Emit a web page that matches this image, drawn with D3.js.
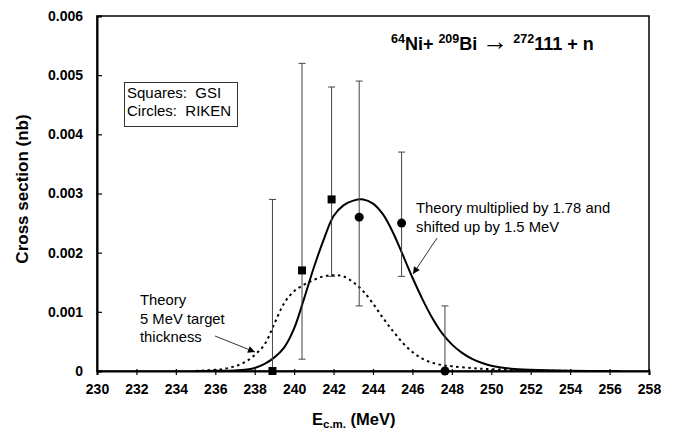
<!DOCTYPE html>
<html>
<head>
<meta charset="utf-8">
<script src="https://cdn.jsdelivr.net/npm/d3@7"></script>
<style>
  html, body { margin: 0; padding: 0; background: #fff; }
  svg { display: block; font-family: "Liberation Sans", Arial, sans-serif; }
</style>
</head>
<body>
<svg id="chart" width="679" height="430"></svg>
<script>
// Axis ticks
const xTicks = [230, 232, 234, 236, 238, 240, 242, 244, 246, 248, 250, 252, 254, 256, 258];
const yTicks = [0, 0.001, 0.002, 0.003, 0.004, 0.005, 0.006];

// GSI measurements (squares): energy, cross section, error bar low / high
const gsiE    = [238.9, 240.4, 241.9];
const gsiY    = [0.0, 0.0017, 0.0029];
const gsiLow  = [0.0, 0.0002, 0.0016];
const gsiHigh = [0.0029, 0.0052, 0.0048];

// RIKEN measurements (circles)
const rikenE    = [243.3, 245.45, 247.65];
const rikenY    = [0.0026, 0.0025, 0.0];
const rikenLow  = [0.0011, 0.0016, 0.0];
const rikenHigh = [0.0049, 0.0037, 0.0011];

// Theory, 5 MeV target thickness (dotted)
const theoryE = [235.0, 235.5, 236.0, 236.5, 237.0, 237.5, 238.0, 238.5, 239.0, 239.5, 240.0, 240.5, 241.0, 241.5, 242.0, 242.5, 243.0, 243.5, 244.0, 244.5, 245.0, 245.5, 246.0, 246.5, 247.0, 247.5, 248.0, 249.0, 250.0, 252.0, 255.0];
const theoryY = [0.0, 0.00001, 0.00002, 0.00004, 0.00008, 0.00015, 0.00027, 0.00045, 0.0008, 0.00115, 0.00135, 0.00146, 0.00154, 0.0016, 0.00162, 0.0016, 0.0015, 0.00135, 0.00114, 0.0009, 0.00068, 0.00048, 0.00032, 0.00021, 0.00014, 0.0001, 0.00008, 0.00005, 0.00003, 0.00001, 0.0];

// Theory x 1.78, shifted up by 1.5 MeV (solid)
const scaledE = [235.0, 236.0, 237.0, 237.5, 238.0, 238.5, 239.0, 239.5, 240.0, 240.5, 241.0, 241.5, 242.0, 242.5, 243.0, 243.5, 244.0, 244.5, 245.0, 245.5, 246.0, 246.5, 247.0, 247.5, 248.0, 248.5, 249.0, 249.5, 250.0, 251.0, 252.0, 254.0, 256.5];
const scaledY = [0.0, 0.000003, 0.00001, 0.00002, 0.00005, 0.00012, 0.00023, 0.0004, 0.00072, 0.00122, 0.00175, 0.00222, 0.00262, 0.0028, 0.00288, 0.0029, 0.00283, 0.00265, 0.00235, 0.00197, 0.00158, 0.00122, 0.0009, 0.00064, 0.00045, 0.00031, 0.00021, 0.00014, 0.00009, 0.00004, 0.00002, 0.000005, 0.0];

const svg = d3.select("#chart");
const margin = { left: 97, top: 16, right: 30, bottom: 59 };
const W = 679, H = 430;
const x = d3.scaleLinear().domain([230, 258]).range([margin.left, W - margin.right]);
const y = d3.scaleLinear().domain([0, 0.006]).range([H - margin.bottom, margin.top]);

// Arrowhead marker
svg.append("defs").append("marker")
  .attr("id", "arrow")
  .attr("viewBox", "0 0 10 10")
  .attr("refX", 10).attr("refY", 5)
  .attr("markerWidth", 9).attr("markerHeight", 7)
  .attr("markerUnits", "userSpaceOnUse")
  .attr("orient", "auto")
  .append("path").attr("d", "M0,0 L10,5 L0,10 z").attr("fill", "#000");

// Plot frame
svg.append("rect")
  .attr("x", x(230)).attr("y", y(0.006))
  .attr("width", x(258) - x(230)).attr("height", y(0) - y(0.006))
  .attr("fill", "none").attr("stroke", "#000").attr("stroke-width", 1.5);

// X axis
const xAxis = svg.append("g")
  .attr("transform", `translate(0,${y(0)})`)
  .call(d3.axisBottom(x).tickValues(xTicks).tickSize(4).tickFormat(d3.format("d")));
xAxis.select(".domain").attr("stroke-width", 2);
xAxis.selectAll(".tick line").attr("y1", -2).attr("stroke-width", 1.2);
xAxis.selectAll(".tick text")
  .attr("y", 13).attr("font-size", 14).attr("font-weight", "bold")
  .attr("font-family", "Liberation Sans, Arial, sans-serif").attr("fill", "#000");

// Y axis
const yAxis = svg.append("g")
  .attr("transform", `translate(${x(230)},0)`)
  .call(d3.axisLeft(y).tickValues(yTicks).tickSize(-5)
    .tickFormat(d => d === 0 ? "0" : d3.format(".3f")(d)));
yAxis.select(".domain").attr("stroke-width", 2);
yAxis.selectAll(".tick line").attr("stroke-width", 1.2);
yAxis.selectAll(".tick text")
  .attr("x", -14).attr("font-size", 14).attr("font-weight", "bold")
  .attr("font-family", "Liberation Sans, Arial, sans-serif").attr("fill", "#000");

// Axis titles
const xt = svg.append("text")
  .attr("x", 312).attr("y", 425)
  .attr("font-size", 16.5).attr("font-weight", "bold");
xt.append("tspan").text("E");
xt.append("tspan").attr("font-size", 11.5).attr("dy", 3).text("c.m.");
xt.append("tspan").attr("dy", -3).text(" (MeV)");

svg.append("text")
  .attr("transform", `translate(28,189) rotate(-90)`)
  .attr("text-anchor", "middle")
  .attr("font-size", 17).attr("font-weight", "bold")
  .text("Cross section (nb)");

// Theory curves
const line = d3.line().x(d => x(d[0])).y(d => y(d[1])).curve(d3.curveCatmullRom.alpha(0.5));
svg.append("path")
  .datum(theoryE.map((e, i) => [e, theoryY[i]]))
  .attr("d", line)
  .attr("fill", "none").attr("stroke", "#000")
  .attr("stroke-width", 2).attr("stroke-dasharray", "2.5,3.5");
svg.append("path")
  .datum(scaledE.map((e, i) => [e, scaledY[i]]))
  .attr("d", line)
  .attr("fill", "none").attr("stroke", "#000").attr("stroke-width", 2);

// Error bars
function errorBars(es, lows, highs) {
  const g = svg.append("g").attr("stroke", "#444").attr("stroke-width", 1);
  es.forEach((e, i) => {
    const cx = x(e);
    g.append("line").attr("x1", cx).attr("x2", cx).attr("y1", y(lows[i])).attr("y2", y(highs[i]));
    g.append("line").attr("x1", cx - 3.5).attr("x2", cx + 3.5).attr("y1", y(highs[i])).attr("y2", y(highs[i]));
    if (lows[i] > 0) {
      g.append("line").attr("x1", cx - 3.5).attr("x2", cx + 3.5).attr("y1", y(lows[i])).attr("y2", y(lows[i]));
    }
  });
}
errorBars(gsiE, gsiLow, gsiHigh);
errorBars(rikenE, rikenLow, rikenHigh);

// Markers
svg.append("g").selectAll("rect").data(gsiE).join("rect")
  .attr("x", (d) => x(d) - 4).attr("y", (d, i) => y(gsiY[i]) - 4)
  .attr("width", 8).attr("height", 8).attr("fill", "#000");
svg.append("g").selectAll("circle").data(rikenE).join("circle")
  .attr("cx", d => x(d)).attr("cy", (d, i) => y(rikenY[i]))
  .attr("r", 4.5).attr("fill", "#000");

// Legend box
svg.append("rect")
  .attr("x", 124.5).attr("y", 82.5).attr("width", 113).attr("height", 44)
  .attr("fill", "#fff").attr("stroke", "#333").attr("stroke-width", 1);
svg.append("text").attr("x", 127).attr("y", 98).attr("font-size", 15).attr("xml:space", "preserve").text("Squares:  GSI");
svg.append("text").attr("x", 127).attr("y", 115.5).attr("font-size", 15).attr("xml:space", "preserve").text("Circles:  RIKEN");

// Reaction title
const title = svg.append("text").attr("x", 391).attr("y", 50)
  .attr("font-size", 18).attr("font-weight", "bold");
title.append("tspan").attr("font-size", 12.5).attr("dy", -7).text("64");
title.append("tspan").attr("dy", 7).text("Ni+ ");
title.append("tspan").attr("font-size", 12.5).attr("dy", -7).text("209");
title.append("tspan").attr("dy", 7).text("Bi ");
title.append("tspan").attr("font-weight", "normal").attr("font-size", 26).attr("dy", 0).text("\u2192");
title.append("tspan").text(" ");
title.append("tspan").attr("font-size", 12.5).attr("dy", -7).text("272");
title.append("tspan").attr("dy", 7).text("111 + n");

// Annotations
const a1 = svg.append("text").attr("font-size", 14.8);
a1.append("tspan").attr("x", 416).attr("y", 213).text("Theory multiplied by 1.78 and");
a1.append("tspan").attr("x", 416).attr("y", 231.5).text("shifted up by 1.5 MeV");
svg.append("line").attr("x1", 437).attr("y1", 238).attr("x2", 413).attr("y2", 274)
  .attr("stroke", "#000").attr("stroke-width", 0.8).attr("marker-end", "url(#arrow)");

const a2 = svg.append("text").attr("font-size", 14.8);
a2.append("tspan").attr("x", 140).attr("y", 305).text("Theory");
a2.append("tspan").attr("x", 140).attr("y", 323.5).text("5 MeV target");
a2.append("tspan").attr("x", 140).attr("y", 342).text("thickness");
svg.append("line").attr("x1", 215).attr("y1", 336).attr("x2", 255).attr("y2", 352)
  .attr("stroke", "#000").attr("stroke-width", 0.8).attr("marker-end", "url(#arrow)");
</script>
</body>
</html>
